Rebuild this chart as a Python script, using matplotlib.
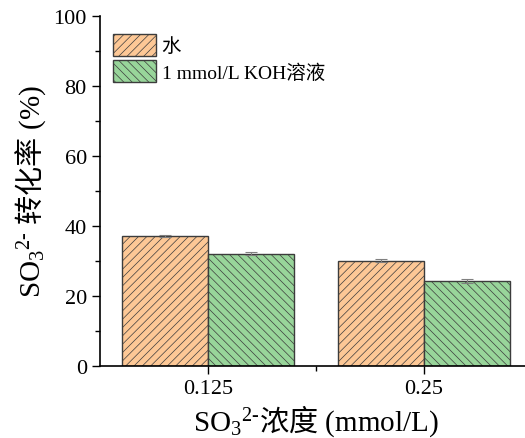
import numpy as np
import matplotlib.pyplot as plt

plt.rcParams['font.family'] = ['Liberation Serif', 'Noto Sans CJK SC']
plt.rcParams['mathtext.fontset'] = 'custom'
plt.rcParams['mathtext.rm'] = 'Liberation Serif'
plt.rcParams['mathtext.it'] = 'Liberation Serif:italic'
plt.rcParams['mathtext.sf'] = 'Noto Sans CJK SC'
plt.rcParams['hatch.color'] = '#a5a5a5'
plt.rcParams['hatch.linewidth'] = 0.5

categories = ['0.125', '0.25']
water = [37.2, 30.1]
water_err = [0.3, 0.4]
koh = [32.1, 24.4]
koh_err = [0.4, 0.6]
labels = ['水', '1 mmol/L KOH溶液']

fig = plt.figure(figsize=(5.25, 4.39), dpi=100)
ax = fig.add_axes([100/525, 72/439, 432/525, 350/439])

x = np.arange(1, len(categories) + 1)
w = 0.4
ekw = dict(ecolor='#808080', elinewidth=0.8, capsize=4, capthick=0.8)
ax.bar(x - w/2, water, w, yerr=water_err, color='#fdc896', edgecolor='#3c3c3c',
       linewidth=1, hatch='////', label=labels[0], error_kw=ekw)
ax.bar(x + w/2, koh, w, yerr=koh_err, color='#98d59a', edgecolor='#3c3c3c',
       linewidth=1, hatch='\\\\\\\\', label=labels[1], error_kw=ekw)

ax.set_xlim(0.5, 2.5)
ax.set_ylim(0, 100)
ax.set_xticks(x)
ax.set_xticklabels(categories)
ax.set_xticks([1.5], minor=True)
ax.set_yticks(range(0, 101, 20))
ax.set_yticks(range(10, 100, 20), minor=True)
ax.tick_params(axis='both', which='major', direction='out', length=6, width=1, labelsize=16)
ax.tick_params(axis='both', which='minor', direction='out', length=3.5, width=1)
ax.spines['top'].set_visible(False)
ax.spines['right'].set_visible(False)
for s in ['left', 'bottom']:
    ax.spines[s].set_linewidth(1.2)

ax.set_ylabel(r'$\mathrm{SO}_3{}^{2\text{-}}$ $\mathsf{转化率}$ (%)', fontsize=21, labelpad=4)
ax.set_xlabel(r'$\mathrm{SO}_3{}^{2\text{-}}\mathsf{浓度}$ (mmol/L)', fontsize=21, labelpad=3)

ax.legend(loc='upper left', bbox_to_anchor=(0.03, 0.95), frameon=False, fontsize=14,
          handlelength=2.2, handleheight=1.4, handletextpad=0.3, labelspacing=0.2,
          borderaxespad=0, borderpad=0)

fig.savefig('out.png', dpi=100)
